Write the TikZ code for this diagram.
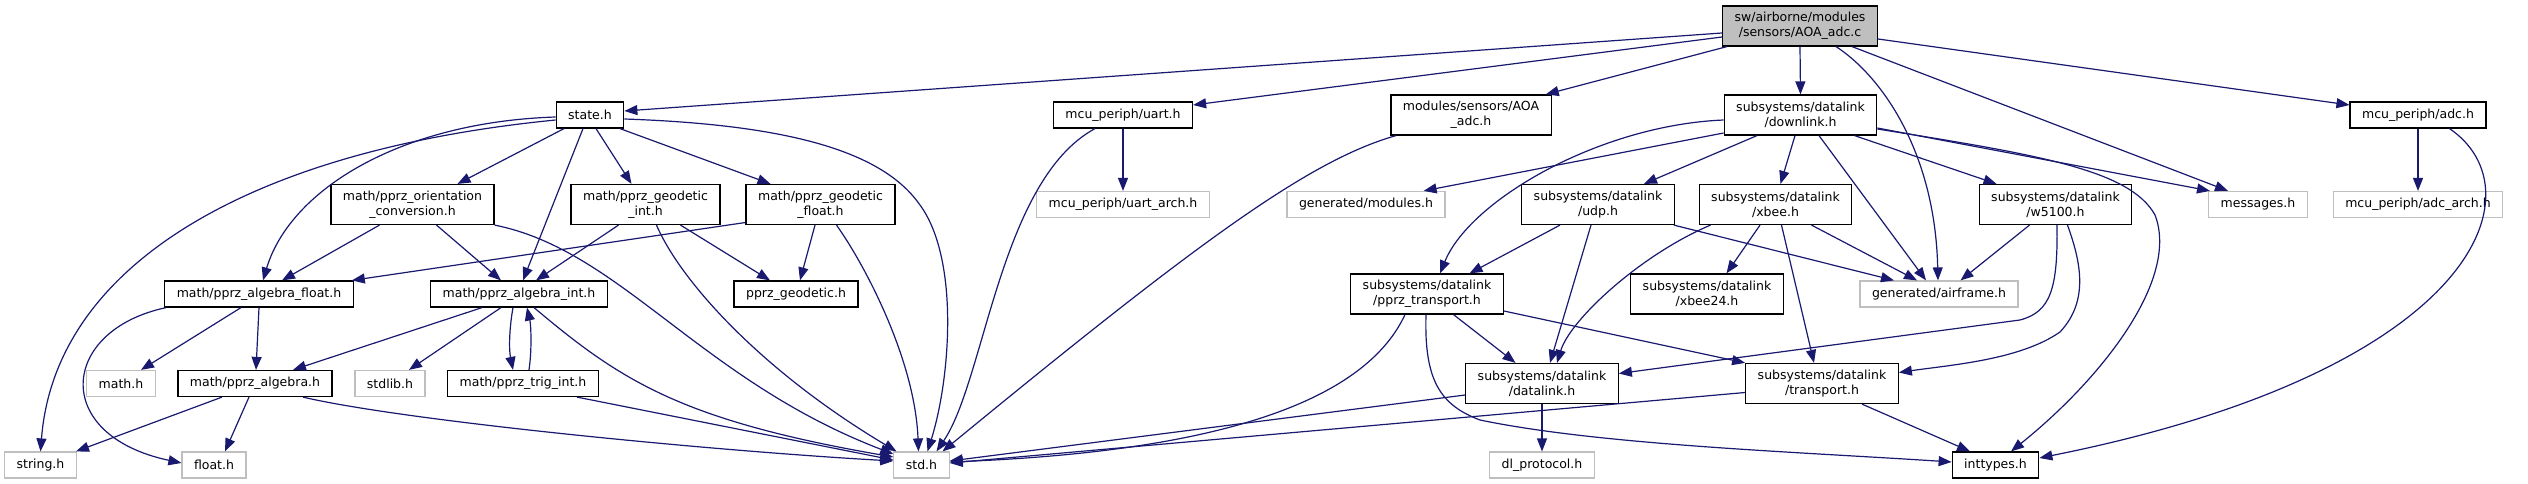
\documentclass[tikz,border=0pt]{standalone}
\usepackage{fontspec}
\setmainfont{DejaVu Sans}
\usetikzlibrary{arrows.meta}
\definecolor{edgeblue}{RGB}{25,25,112}
\definecolor{nodocgray}{RGB}{191,191,191}

\begin{document}
\begin{tikzpicture}[x=1pt,y=-1pt,
  box/.style={draw=black,line width=1.2pt,inner xsep=12pt,inner ysep=0pt,minimum height=26pt,
    font=\fontsize{12.5}{15}\selectfont,align=center},
  tall/.style={minimum height=40pt},
  nodoc/.style={draw=nodocgray,line width=1.2pt},
  dep/.style={draw=edgeblue,line width=1.2pt,-{Triangle[length=13pt,width=10pt]}}]
 \fill[white] (0,0) rectangle (2528,484);
 \useasboundingbox (0,0) rectangle (2528,484);

 \node[box,tall,fill=nodocgray] (aoac) at (1800,26) {sw/airborne/modules\\/sensors/AOA\_adc.c};

 \node[box] (stateh) at (590,115) {state.h};
 \node[box] (uart) at (1123,115) {mcu\_periph/uart.h};
 \node[box,tall] (aoah) at (1471,115) {modules/sensors/AOA\\\_adc.h};
 \node[box,tall] (downlink) at (1800.5,115) {subsystems/datalink\\/downlink.h};
 \node[box] (adc) at (2418,115) {mcu\_periph/adc.h};

 \node[box,tall] (orient) at (412.5,204.5) {math/pprz\_orientation\\\_conversion.h};
 \node[box,tall] (geoint) at (645.5,204.5) {math/pprz\_geodetic\\\_int.h};
 \node[box,tall] (geofloat) at (820.5,204.5) {math/pprz\_geodetic\\\_float.h};
 \node[box,nodoc] (uartarch) at (1123,204.5) {mcu\_periph/uart\_arch.h};
 \node[box,nodoc] (modules) at (1366,204.5) {generated/modules.h};
 \node[box,tall] (udp) at (1598,204.5) {subsystems/datalink\\/udp.h};
 \node[box,tall] (xbee) at (1775.5,204.5) {subsystems/datalink\\/xbee.h};
 \node[box,tall] (w5100) at (2055.5,204.5) {subsystems/datalink\\/w5100.h};
 \node[box,nodoc] (messages) at (2258,204.5) {messages.h};
 \node[box,nodoc] (adcarch) at (2418,204.5) {mcu\_periph/adc\_arch.h};

 \node[box] (algfloat) at (259,294) {math/pprz\_algebra\_float.h};
 \node[box] (algint) at (519,294) {math/pprz\_algebra\_int.h};
 \node[box] (geodetic) at (796,294) {pprz\_geodetic.h};
 \node[box,tall] (pprztr) at (1427,294) {subsystems/datalink\\/pprz\_transport.h};
 \node[box,tall] (xbee24) at (1707,294) {subsystems/datalink\\/xbee24.h};
 \node[box,nodoc] (airframe) at (1939,294) {generated/airframe.h};

 \node[box,nodoc] (mathh) at (121,383.5) {math.h};
 \node[box] (algebra) at (255,383.5) {math/pprz\_algebra.h};
 \node[box,nodoc] (stdlib) at (390,383.5) {stdlib.h};
 \node[box] (trig) at (523,383.5) {math/pprz\_trig\_int.h};
 \node[box,tall] (datalink) at (1542,383.5) {subsystems/datalink\\/datalink.h};
 \node[box,tall] (transport) at (1822,383.5) {subsystems/datalink\\/transport.h};

 \node[box,nodoc] (stringh) at (40.5,465) {string.h};
 \node[box,nodoc] (floath) at (214,465) {float.h};
 \node[box,nodoc] (stdh) at (921.5,465) {std.h};
 \node[box,nodoc] (dlproto) at (1542,465) {dl\_protocol.h};
 \node[box] (inttypes) at (1995.5,465) {inttypes.h};

 \draw[dep] ([yshift=-7pt]aoac.west) -- ([yshift=4pt]stateh.east);
 \draw[dep] ([yshift=-11pt]aoac.west) -- ([yshift=10pt]uart.east);
 \draw[dep] ([xshift=5pt]aoac.south west) -- ([xshift=-6pt]aoah.north east);
 \draw[dep] (aoac.south) -- (downlink.north);
 \draw[dep] ([xshift=36pt]aoac.south) .. controls (1880,75) and (1935,150) .. ([xshift=-1pt]airframe.north);
 \draw[dep] ([xshift=52pt]aoac.south) -- ([xshift=-30pt]messages.north);
 \draw[dep] ([yshift=-13pt]aoac.east) -- ([yshift=10pt]adc.west);

 \draw[dep] ([yshift=-5pt]stateh.west) .. controls (250,150) and (55,265) .. (stringh.north);
 \draw[dep] ([yshift=-2pt]stateh.west) .. controls (400,122) and (290,190) .. ([xshift=4pt]algfloat.north);
 \draw[dep] ([xshift=-26pt]stateh.south) -- ([xshift=45pt]orient.north);
 \draw[dep] ([xshift=-7pt]stateh.south) -- ([xshift=4pt]algint.north);
 \draw[dep] ([xshift=6pt]stateh.south) -- ([xshift=-14pt]geoint.north);
 \draw[dep] ([xshift=30pt]stateh.south) -- ([xshift=-50pt]geofloat.north);
 \draw[dep] ([yshift=-4pt]stateh.east) .. controls (800,125) and (885,155) .. (920,205)
   .. controls (960,260) and (950,380) .. ([xshift=6pt]stdh.north);

 \draw[dep] ([xshift=-33pt]orient.south) -- ([xshift=23pt]algfloat.north);
 \draw[dep] ([xshift=24pt]orient.south) -- ([xshift=-18pt]algint.north);
 \draw[dep] (orient.south east) .. controls (620,250) and (700,380) .. ([yshift=11pt]stdh.west);

 \draw[dep] ([xshift=-27pt]geoint.south) -- ([xshift=17pt]algint.north);
 \draw[dep] ([xshift=35pt]geoint.south) -- ([xshift=-26pt]geodetic.north);
 \draw[dep] ([xshift=11pt]geoint.south) .. controls (680,280) and (760,370) .. ([xshift=-25pt]stdh.north);

 \draw[dep] ([yshift=-18pt]geofloat.west) -- ([xshift=-2pt]algfloat.north east);
 \draw[dep] ([xshift=-5.5pt]geofloat.south) -- ([xshift=4pt]geodetic.north);
 \draw[dep] ([xshift=16pt]geofloat.south) .. controls (865,265) and (915,360) .. ([xshift=-3pt]stdh.north);

 \draw[dep] ([xshift=-18pt]algfloat.south) -- ([xshift=20pt]mathh.north);
 \draw[dep] (algfloat.south) -- ([xshift=1pt]algebra.north);
 \draw[dep] ([xshift=2pt]algfloat.south west) .. controls (60,330) and (50,435) .. ([yshift=2pt]floath.west);

 \draw[dep] ([xshift=-37pt]algint.south) -- ([xshift=38pt]algebra.north);
 \draw[dep] ([xshift=-18pt]algint.south) -- ([xshift=19pt]stdlib.north);
 \draw[dep] ([xshift=-6pt]algint.south) .. controls (509,330) and (509,350) .. ([xshift=-10pt]trig.north);
 \draw[dep] ([xshift=15pt]algint.south) .. controls (620,380) and (680,420) .. ([yshift=8pt]stdh.west);

 \draw[dep] ([xshift=6pt]trig.north) .. controls (532,350) and (531,325) .. ([xshift=8pt]algint.south);
 \draw[dep] ([xshift=54pt]trig.south) -- ([yshift=5pt]stdh.west);

 \draw[dep] ([xshift=-33pt]algebra.south) -- ([xshift=-1pt]stringh.north east);
 \draw[dep] ([xshift=-6pt]algebra.south) -- ([xshift=11pt]floath.north);
 \draw[dep] ([xshift=48pt]algebra.south) .. controls (400,420) and (700,450) .. ([yshift=4pt]stdh.west);

 \draw[dep] (uart.south) -- (uartarch.north);
 \draw[dep] ([xshift=-28pt]uart.south) .. controls (1000,180) and (985,380) .. ([xshift=15pt]stdh.north);

 \draw[dep] ([xshift=-75pt]aoah.south) .. controls (1310,160) and (1200,240) .. ([xshift=21pt]stdh.north);

 \draw[dep] ([yshift=-18pt]downlink.west) -- ([xshift=-22pt]modules.north east);
 \draw[dep] ([yshift=-5pt]downlink.west) .. controls (1600,125) and (1470,200) .. ([xshift=13pt]pprztr.north);
 \draw[dep] ([xshift=-43.5pt]downlink.south) -- ([xshift=46pt]udp.north);
 \draw[dep] ([xshift=-5.5pt]downlink.south) -- ([xshift=5pt]xbee.north);
 \draw[dep] ([xshift=54pt]downlink.south) -- ([xshift=-59pt]w5100.north);
 \draw[dep] ([xshift=18.5pt]downlink.south) -- ([xshift=-13pt]airframe.north);
 \draw[dep] ([yshift=-13pt]downlink.east) -- ([xshift=-48pt]messages.north);
 \draw[dep] ([yshift=-14pt]downlink.east) .. controls (2040,155) and (2130,170) .. (2155,215)
   .. controls (2180,280) and (2100,380) .. ([xshift=15.5pt]inttypes.north);

 \draw[dep] ([xshift=-38pt]udp.south) -- ([xshift=42.5pt]pprztr.north);
 \draw[dep] ([xshift=-7pt]udp.south) -- ([xshift=8pt]datalink.north);
 \draw[dep] ([xshift=-1pt]udp.south east) -- ([xshift=-45pt]airframe.north);

 \draw[dep] ([xshift=-15.5pt]xbee.south) -- ([xshift=19.5pt]xbee24.north);
 \draw[dep] ([xshift=36pt]xbee.south) -- ([xshift=-22pt]airframe.north);
 \draw[dep] ([xshift=-65pt]xbee.south) .. controls (1640,255) and (1570,320) .. ([xshift=15pt]datalink.north);
 \draw[dep] ([xshift=6pt]xbee.south) -- ([xshift=-8pt]transport.north);

 \draw[dep] ([xshift=-26pt]w5100.south) -- ([xshift=21.5pt]airframe.north);
 \draw[dep] ([xshift=1.5pt]w5100.south) .. controls (2058,290) and (2050,312) .. (2020,320)
   -- ([yshift=10pt]datalink.east);
 \draw[dep] ([xshift=12pt]w5100.south) .. controls (2080,260) and (2090,300) .. (2060,332)
   .. controls (2020,360) and (1950,365) .. ([yshift=11pt]transport.east);

 \draw[dep] ([xshift=26.5pt]pprztr.south) -- ([xshift=-26.5pt]datalink.north);
 \draw[dep] ([yshift=-17pt]pprztr.east) -- (transport.north west);
 \draw[dep] ([xshift=-22pt]pprztr.south) .. controls (1370,390) and (1250,450) .. ([yshift=3pt]stdh.east);
 \draw[dep] ([xshift=-1pt]pprztr.south) .. controls (1424,380) and (1440,405) .. (1480,420)
   .. controls (1600,445) and (1800,452) .. ([yshift=3pt]inttypes.west);

 \draw[dep] (datalink.south) -- (dlproto.north);
 \draw[dep] ([yshift=-11.5pt]datalink.west) -- ([yshift=4pt]stdh.east);

 \draw[dep] ([yshift=-9pt]transport.west) -- ([yshift=2pt]stdh.east);
 \draw[dep] ([xshift=40pt]transport.south) -- ([xshift=-25.5pt]inttypes.north);

 \draw[dep] (adc.south) -- (adcarch.north);
 \draw[dep] ([xshift=31.5pt]adc.south) .. controls (2540,190) and (2480,370) .. ([yshift=7pt]inttypes.east);
\end{tikzpicture}
\end{document}
